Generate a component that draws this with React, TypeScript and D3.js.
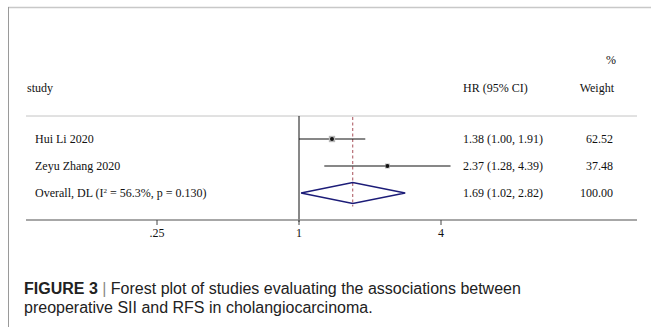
import React from "react";
import * as d3 from "d3";

// studies
const studies = ["Hui Li 2020", "Zeyu Zhang 2020"];
const hr = [1.38, 2.37];
const lower = [1.0, 1.28];
const upper = [1.91, 4.39];
const weights = [62.52, 37.48];

const overallLabel = "Overall, DL (I² = 56.3%, p = 0.130)";
const overall = { hr: 1.69, lo: 1.02, hi: 2.82, weight: 100.0 };

const ticks = [0.25, 1, 4];
const tickLabels = [".25", "1", "4"];

const W = 651;
const H = 327;
const serif = "'Liberation Serif', 'Times New Roman', serif";
const sans = "'Liberation Sans', Arial, sans-serif";
const fs = 12;

const fmt = (v: number) => v.toFixed(2);

export default function App() {
  const x = d3.scaleLog().domain([0.25, 4]).range([157, 441]);
  const rows = [...studies, overallLabel];
  const y = d3.scalePoint<number>().domain(d3.range(rows.length)).range([139, 193]);
  const box = d3.scaleSqrt().domain([0, 100]).range([0, 8]);

  const axisY = 220;
  const topY = 116;
  const diamondH = 10.5;
  const oy = y(2)!;

  const diamond = d3.line()([
    [x(overall.lo), oy],
    [x(overall.hr), oy - diamondH],
    [x(overall.hi), oy],
    [x(overall.hr), oy + diamondH],
    [x(overall.lo), oy],
  ]);

  return (
    <svg width={W} height={H} style={{ position: "absolute", left: 0, top: 0, background: "#fff" }}>
      {/* figure frame */}
      <line x1={8} y1={7.5} x2={W} y2={7.5} stroke="#c8c8c8" strokeWidth={1.5} />
      <line x1={8.5} y1={7} x2={8.5} y2={H} stroke="#9a9a9a" strokeWidth={1} />

      <g fontFamily={serif} fontSize={fs} fill="#111">
        <text x={616} y={64} textAnchor="end">%</text>
        <text x={27} y={92}>study</text>
        <text x={463} y={92}>HR (95% CI)</text>
        <text x={614} y={92} textAnchor="end">Weight</text>
      </g>

      <line x1={26} y1={topY} x2={637} y2={topY} stroke="#c4c4c4" strokeWidth={1} />

      {/* null line */}
      <line x1={x(1)} y1={topY} x2={x(1)} y2={axisY + 2} stroke="#111" strokeWidth={1} />
      {/* overall effect dashed */}
      <line x1={x(overall.hr)} y1={topY + 1} x2={x(overall.hr)} y2={oy + diamondH + 3}
        stroke="#a8505a" strokeWidth={1} strokeDasharray="3,2.5" />

      {studies.map((s, i) => {
        const b = box(weights[i]);
        return (
          <g key={s}>
            <line x1={x(lower[i])} y1={y(i)} x2={x(upper[i])} y2={y(i)} stroke="#111" strokeWidth={1.2} />
            <rect x={x(hr[i]) - b / 2} y={y(i)! - b / 2} width={b} height={b} fill="#b8b8b8" />
            <circle cx={x(hr[i])} cy={y(i)} r={2} fill="#111" />
          </g>
        );
      })}

      <path d={diamond || ""} fill="none" stroke="#1c1c78" strokeWidth={1.4} />

      <g fontFamily={serif} fontSize={fs} fill="#111">
        {rows.map((r, i) => (
          <text key={r} x={35} y={y(i)! + 4}>
            {i === 2 ? (
              <>
                Overall, DL (I<tspan dy={-4.5} fontSize={7}>2</tspan>
                <tspan dy={4.5}> = 56.3%, p = 0.130)</tspan>
              </>
            ) : (
              r
            )}
          </text>
        ))}
        {rows.map((r, i) => {
          const v = i < 2 ? [hr[i], lower[i], upper[i]] : [overall.hr, overall.lo, overall.hi];
          return (
            <text key={"ci" + i} x={463} y={y(i)! + 4}>
              {`${fmt(v[0])} (${fmt(v[1])}, ${fmt(v[2])})`}
            </text>
          );
        })}
        {rows.map((r, i) => (
          <text key={"w" + i} x={613} y={y(i)! + 4} textAnchor="end">
            {fmt(i < 2 ? weights[i] : overall.weight)}
          </text>
        ))}
      </g>

      {/* x axis */}
      <line x1={26} y1={axisY} x2={637} y2={axisY} stroke="#8a8a8a" strokeWidth={1.5} />
      {ticks.map((t, i) => (
        <g key={t}>
          <line x1={x(t)} y1={axisY} x2={x(t)} y2={axisY + 5} stroke="#444" strokeWidth={1} />
          <text x={x(t)} y={axisY + 17} textAnchor="middle" fontFamily={serif} fontSize={fs} fill="#111">
            {tickLabels[i]}
          </text>
        </g>
      ))}

      {/* caption */}
      <g fontFamily={sans} fontSize={16} fill="#222">
        <text x={24} y={294}>
          <tspan fontWeight="bold">FIGURE 3</tspan>
          <tspan fill="#888"> | </tspan>
          <tspan>Forest plot of studies evaluating the associations between</tspan>
        </text>
        <text x={24} y={313}>preoperative SII and RFS in cholangiocarcinoma.</text>
      </g>
    </svg>
  );
}
